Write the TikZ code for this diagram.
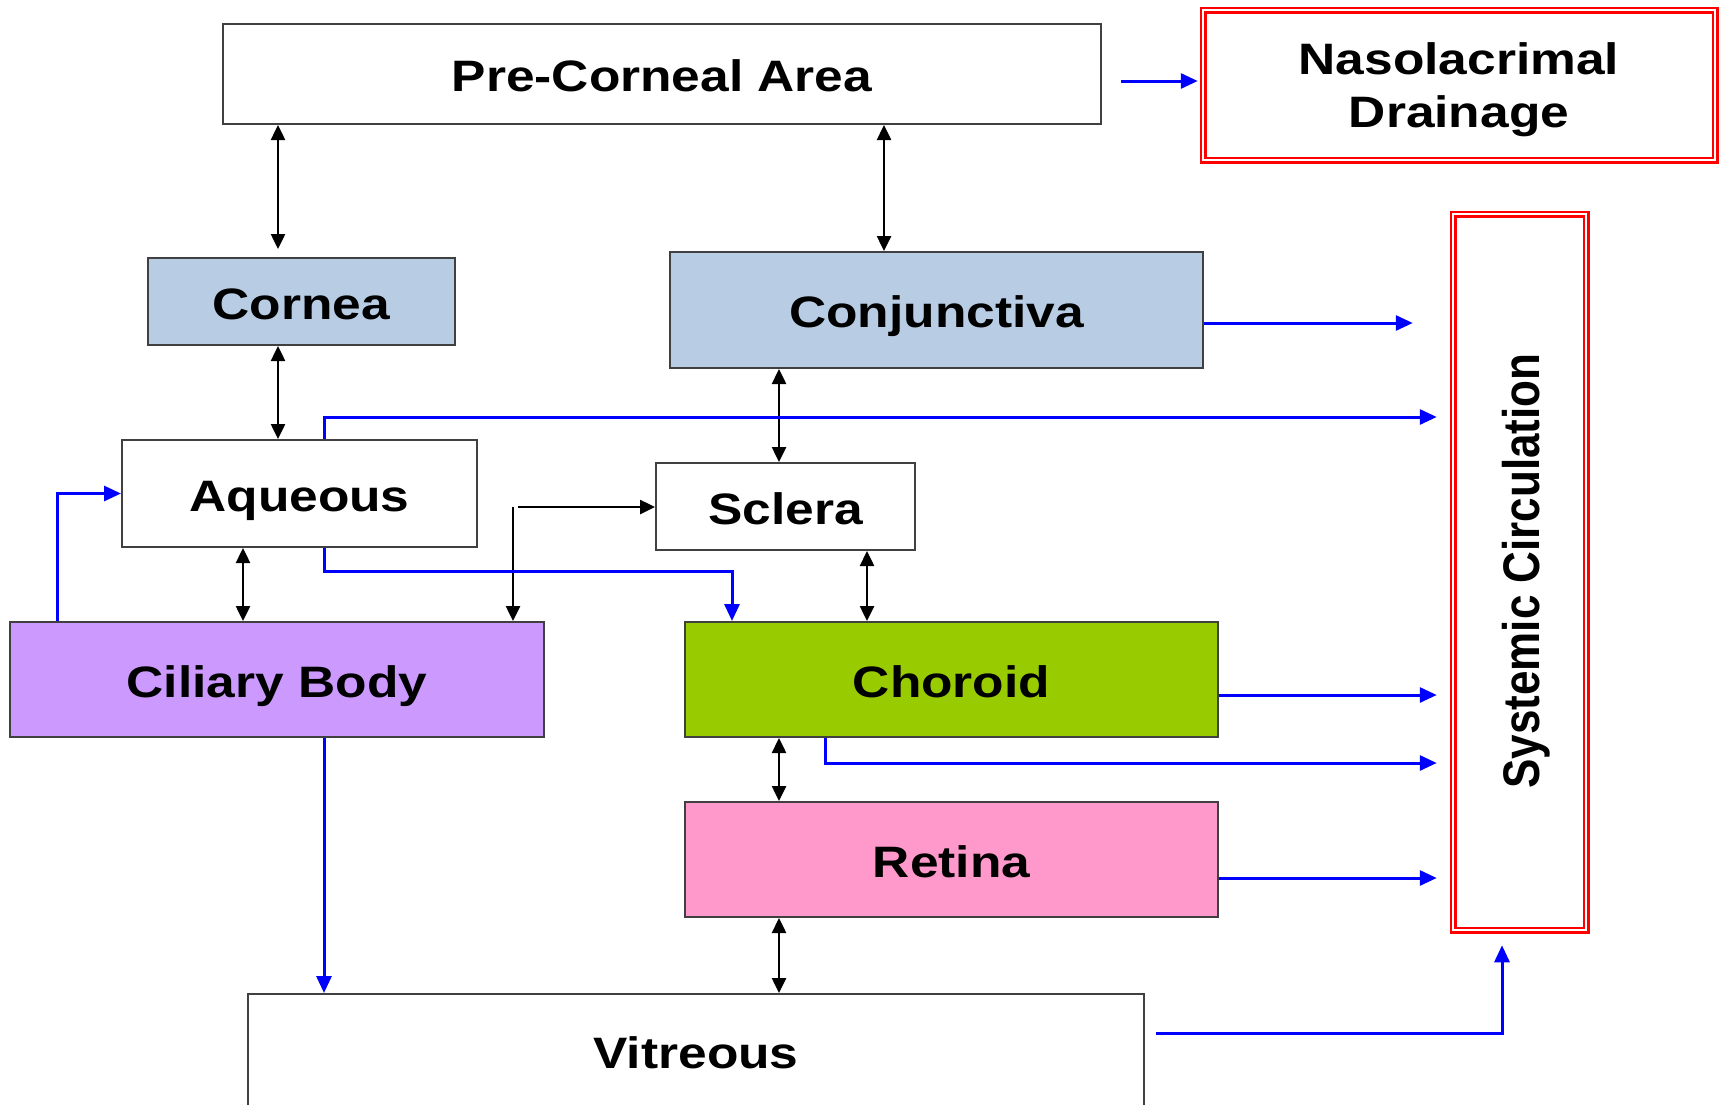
\documentclass[tikz,border=0pt]{standalone}
\usepackage{fontspec}
\setmainfont{Liberation Sans}[FakeStretch=1.17]
\newfontfamily\plainsans{Liberation Sans}
\usetikzlibrary{arrows.meta,calc}
\definecolor{corneablue}{RGB}{184,204,228}
\definecolor{ciliarypurple}{RGB}{204,153,255}
\definecolor{choroidgreen}{RGB}{153,204,0}
\definecolor{retinapink}{RGB}{255,153,204}
\definecolor{boxgrey}{RGB}{64,64,64}

\begin{document}
\begin{tikzpicture}[x=1pt, y=-1pt,
    every node/.style={font=\bfseries\fontsize{44}{53}\selectfont},
    tissue/.style={draw=boxgrey, line width=2pt, inner sep=0pt, align=center, text height=35.5pt, text depth=0pt},
    sink/.style={draw=red, line width=2.5pt, double=white, double distance=2pt, inner sep=0pt, align=center},
    exchange/.style={line width=2.5pt, {Triangle[length=15pt,width=14pt]}-{Triangle[length=15pt,width=14pt]}},
    oneway/.style={line width=2.5pt, -{Triangle[length=15pt,width=14pt]}},
    flow/.style={blue, line width=3pt, -{Triangle[length=17pt,width=15pt]}}]
\useasboundingbox (0,0) rectangle (1721,1104);
\clip (0,0) rectangle (1721,1104);

% tissues
\node[tissue, minimum width=878pt, minimum height=100pt] (precorneal) at (662,74) {Pre-Corneal Area};
\node[tissue, fill=corneablue, minimum width=307pt, minimum height=87pt] (cornea) at (301.5,301.5) {Cornea};
\node[tissue, fill=corneablue, minimum width=533pt, minimum height=116pt] (conjunctiva) at (936.5,310) {Conjunctiva};
\node[tissue, minimum width=355pt, minimum height=107pt] (aqueous) at (299.5,493.5) {Aqueous};
\node[tissue, minimum width=259pt, minimum height=87pt] (sclera) at (785.5,506.5) {Sclera};
\node[tissue, fill=ciliarypurple, minimum width=534pt, minimum height=115pt] (ciliary) at (277,679.5) {Ciliary Body};
\node[tissue, fill=choroidgreen, minimum width=533pt, minimum height=115pt] (choroid) at (951.5,679.5) {Choroid};
\node[tissue, fill=retinapink, minimum width=533pt, minimum height=115pt] (retina) at (951.5,859.5) {Retina};
\node[tissue, minimum width=896pt, minimum height=114pt] (vitreous) at (696,1051) {Vitreous};

% where it leaves the eye
\node[sink, minimum width=512pt, minimum height=150pt] (nasolacrimal) at (1459,85) {\rule{0pt}{42pt}Nasolacrimal\\Drainage};
\node[sink, minimum width=133pt, minimum height=716pt] (systemic) at (1519.5,572) {};
\node[font=\plainsans\bfseries\fontsize{44}{53}\selectfont, xscale=1.17, rotate=90] (systemiclabel) at (1526,571) {Systemic Circulation};

% two-way exchange
\draw[exchange, shorten >=8pt] (precorneal.south -| 278,0) -- (cornea.north -| 278,0);
\draw[exchange] (precorneal.south -| 884,0) -- (conjunctiva.north -| 884,0);
\draw[exchange] (cornea.south -| 278,0) -- (aqueous.north -| 278,0);
\draw[exchange] (conjunctiva.south -| 779,0) -- (sclera.north -| 779,0);
\draw[exchange] (aqueous.south -| 243,0) -- (ciliary.north -| 243,0);
\draw[exchange] (sclera.south -| 867,0) -- (choroid.north -| 867,0);
\draw[exchange] (choroid.south -| 779,0) -- (retina.north -| 779,0);
\draw[exchange] (retina.south -| 779,0) -- (vitreous.north -| 779,0);

% fork to sclera and ciliary body
\coordinate (fork) at (513,507);
\draw[oneway] ([xshift=5pt]fork) -- (fork -| sclera.west);
\draw[oneway] (fork) -- (fork |- ciliary.north);

% blue flows
\draw[flow, shorten >=4pt] ($(precorneal.east)+(19,7)$) -- (nasolacrimal.west |- 0,81);
\draw[flow, shorten >=39pt] (conjunctiva.east |- 0,323) -- (systemic.west |- 0,323);
\draw[flow, shorten >=15pt] (aqueous.north -| 324,0) |- (systemic.west |- 0,417);
\draw[flow] (aqueous.south -| 324,0) |- (732,571) -- (choroid.north -| 732,0);
\draw[flow] (ciliary.north -| 57,0) |- (aqueous.west);
\draw[flow] (ciliary.south -| 324,0) -- (vitreous.north -| 324,0);
\foreach \src/\yy in {choroid/695, retina/878}
    \draw[flow, shorten >=15pt] (\src.east |- 0,\yy) -- (systemic.west |- 0,\yy);
\draw[flow, shorten >=15pt] (choroid.south -| 825,0) |- (systemic.west |- 0,763);
\draw[flow, shorten >=14pt] ($(vitreous.east)+(11,-18)$) -| (systemic.south -| 1502,0);
\end{tikzpicture}
\end{document}
